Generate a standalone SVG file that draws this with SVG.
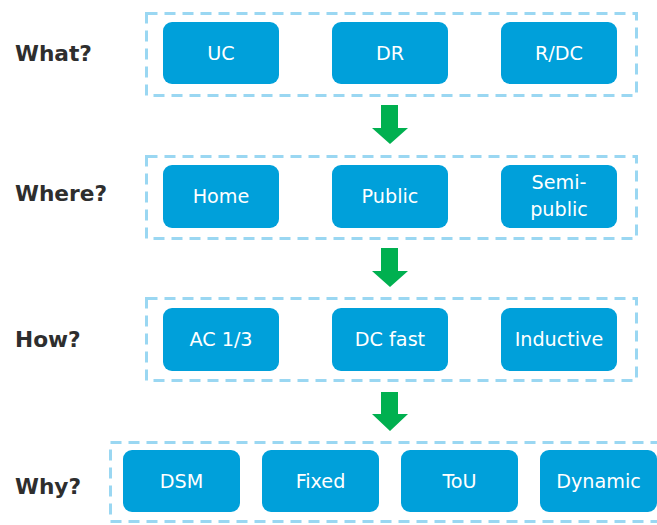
<svg xmlns="http://www.w3.org/2000/svg" width="657" height="525" viewBox="0 0 657 525">
<style>
.frame{fill:none;stroke:#9ad7f2;stroke-width:3;stroke-dasharray:11 7}
.node{fill:#00a0da}
.nt{fill:#ffffff;font-family:"DejaVu Sans",Verdana,sans-serif;font-size:19.2px;text-anchor:middle}
.lab{fill:#2e2e2e;font-family:"DejaVu Sans",Verdana,sans-serif;font-size:21.7px;font-weight:bold}
.arrow{fill:#00b050}
</style>
<rect width="657" height="525" fill="#ffffff"/>
<g id="frames">
<rect class="frame" x="146.5" y="13.5" width="490" height="82"/>
<rect class="frame" x="146.5" y="156.5" width="490" height="82"/>
<rect class="frame" x="146.5" y="298.5" width="490" height="82"/>
<rect class="frame" x="110.5" y="442.5" width="560" height="79"/>
</g>
<g id="labels">
<text class="lab" x="15" y="61">What?</text>
<text class="lab" x="15" y="201">Where?</text>
<text class="lab" x="15" y="347">How?</text>
<text class="lab" x="15" y="494">Why?</text>
</g>
<g id="n-uc"><rect class="node" x="163" y="22" width="116" height="62" rx="9"/><text class="nt" x="221" y="60">UC</text></g>
<g id="n-dr"><rect class="node" x="332" y="22" width="116" height="62" rx="9"/><text class="nt" x="390" y="60">DR</text></g>
<g id="n-rdc"><rect class="node" x="501" y="22" width="116" height="62" rx="9"/><text class="nt" x="559" y="60">R/DC</text></g>
<g id="n-home"><rect class="node" x="163" y="165" width="116" height="63" rx="9"/><text class="nt" x="221" y="203">Home</text></g>
<g id="n-public"><rect class="node" x="332" y="165" width="116" height="63" rx="9"/><text class="nt" x="390" y="203">Public</text></g>
<g id="n-semi"><rect class="node" x="501" y="165" width="116" height="63" rx="9"/><text class="nt" x="559" y="189">Semi-</text><text class="nt" x="559" y="216">public</text></g>
<g id="n-ac"><rect class="node" x="163" y="308" width="116" height="63" rx="9"/><text class="nt" x="221" y="346">AC 1/3</text></g>
<g id="n-dc"><rect class="node" x="332" y="308" width="116" height="63" rx="9"/><text class="nt" x="390" y="346">DC fast</text></g>
<g id="n-ind"><rect class="node" x="501" y="308" width="116" height="63" rx="9"/><text class="nt" x="559" y="346">Inductive</text></g>
<g id="n-dsm"><rect class="node" x="123" y="450" width="117" height="62" rx="9"/><text class="nt" x="181.5" y="488">DSM</text></g>
<g id="n-fixed"><rect class="node" x="262" y="450" width="117" height="62" rx="9"/><text class="nt" x="320.5" y="488">Fixed</text></g>
<g id="n-tou"><rect class="node" x="401" y="450" width="117" height="62" rx="9"/><text class="nt" x="459.5" y="488">ToU</text></g>
<g id="n-dyn"><rect class="node" x="540" y="450" width="117" height="62" rx="9"/><text class="nt" x="598.5" y="488">Dynamic</text></g>
<g id="connectors">
<polygon class="arrow" points="381,105 398,105 398,128 408,128 390,144 372,128 381,128"/>
<polygon class="arrow" points="381,248 398,248 398,271 408,271 390,287 372,271 381,271"/>
<polygon class="arrow" points="381,392 398,392 398,414 408,414 390,431 372,414 381,414"/>
</g>
</svg>
